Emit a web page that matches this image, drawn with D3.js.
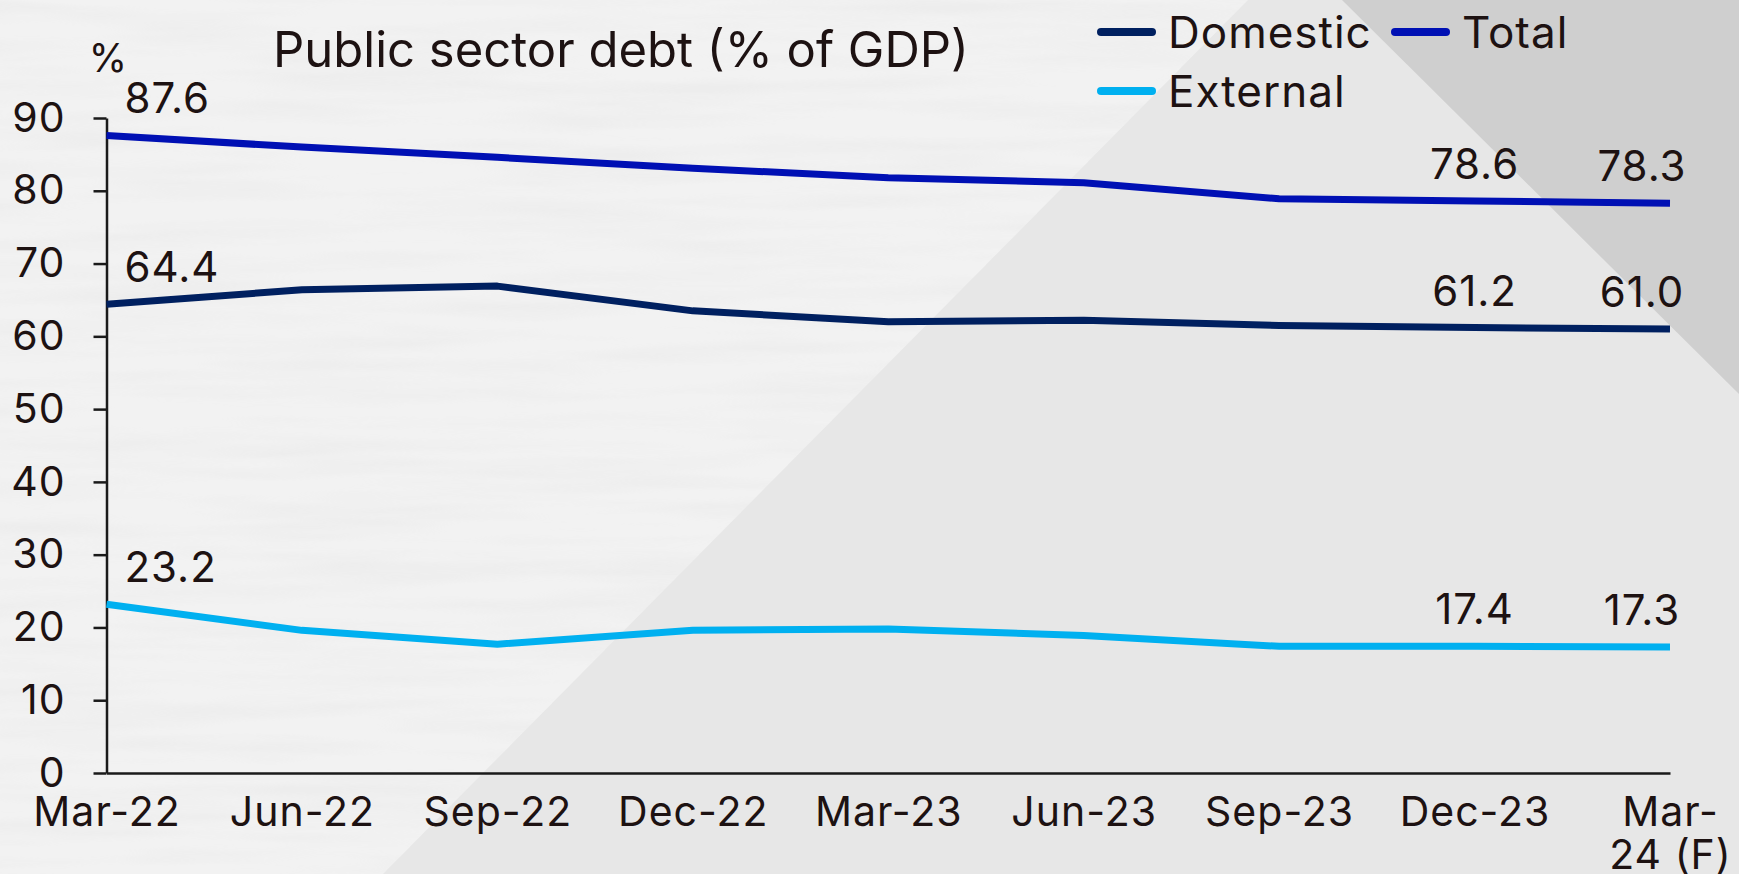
<!DOCTYPE html>
<html>
<head>
<meta charset="utf-8">
<script src="https://cdn.jsdelivr.net/npm/d3@7"></script>
<style>
  html, body { margin: 0; padding: 0; background: #f1f1f1; }
  svg { display: block; }
  text { font-family: Inter, "Open Sans", sans-serif; fill: #1d1212; }
</style>
</head>
<body>
<svg id="chart" width="1739" height="874"></svg>
<script>
// Quarterly public sector debt, % of GDP
const categories = ["Mar-22", "Jun-22", "Sep-22", "Dec-22", "Mar-23", "Jun-23", "Sep-23", "Dec-23", "Mar-24 (F)"];
const tickLabels = ["Mar-22", "Jun-22", "Sep-22", "Dec-22", "Mar-23", "Jun-23", "Sep-23", "Dec-23", "Mar-\n24 (F)"];
const domestic = [64.4, 66.4, 66.9, 63.5, 62.0, 62.2, 61.5, 61.2, 61.0];
const external = [23.2, 19.6, 17.7, 19.6, 19.8, 18.9, 17.4, 17.4, 17.3];
const total    = [87.6, 86.0, 84.6, 83.1, 81.8, 81.1, 78.9, 78.6, 78.3];
const yTicks = [0, 10, 20, 30, 40, 50, 60, 70, 80, 90];
const labelledPoints = [0, 7, 8];

const series = [
  { name: "Domestic", values: domestic, color: "#002060" },
  { name: "External", values: external, color: "#00b0f0" },
  { name: "Total",    values: total,    color: "#0010b4" }
];

const W = 1739, H = 874;
const svg = d3.select("#chart");

// --- backdrop: pale textured panel with two grey diagonal planes ---
const defs = svg.append("defs");
const tex = defs.append("filter").attr("id", "marble")
  .attr("x", 0).attr("y", 0).attr("width", "100%").attr("height", "100%");
tex.append("feTurbulence").attr("type", "fractalNoise")
  .attr("baseFrequency", "0.004 0.05").attr("numOctaves", 3).attr("seed", 7);
tex.append("feColorMatrix").attr("type", "matrix")
  .attr("values", "0 0 0 0 0.55  0 0 0 0 0.55  0 0 0 0 0.55  0 0 0 -2.2 1.35");

svg.append("rect").attr("width", W).attr("height", H).attr("fill", "#f2f2f2");
svg.append("rect").attr("width", W).attr("height", H)
  .attr("filter", "url(#marble)").attr("opacity", 0.10);
svg.append("polygon")
  .attr("points", [[383, H], [1248, 0], [W, 0], [W, H]].map(p => p.join(",")).join(" "))
  .attr("fill", "#e7e7e7");
svg.append("polygon")
  .attr("points", [[1342, 0], [W, 0], [W, 394]].map(p => p.join(",")).join(" "))
  .attr("fill", "#cfcfcf");

// --- scales ---
const x = d3.scalePoint().domain(categories).range([106.5, 1670]);
const y = d3.scaleLinear().domain([0, 90]).range([773, 118]);

const axisFont = { size: "41px", spacing: "1px" };

// --- axes ---
const yAxis = svg.append("g").attr("transform", `translate(${x.range()[0]},0)`)
  .call(d3.axisLeft(y).tickValues(yTicks).tickSize(13).tickSizeOuter(0).tickPadding(28));
yAxis.selectAll("text").style("font-size", axisFont.size)
  .style("letter-spacing", axisFont.spacing).attr("fill", "#1d1212");

const xAxis = svg.append("g").attr("transform", `translate(0,${y(0)})`)
  .call(d3.axisBottom(x).tickSize(0).tickSizeOuter(0).tickPadding(24)
    .tickFormat((d, i) => tickLabels[i]));
xAxis.selectAll("text").style("font-size", axisFont.size)
  .style("letter-spacing", axisFont.spacing).attr("fill", "#1d1212")
  .each(function (d, i) {
    const lines = tickLabels[i].split("\n");
    if (lines.length > 1) {
      const t = d3.select(this).text(null);
      lines.forEach((ln, k) => t.append("tspan").attr("x", 0)
        .attr("dy", k === 0 ? "0.71em" : "1.05em").text(ln));
      t.attr("dy", null);
    }
  });

[yAxis, xAxis].forEach(g => {
  g.selectAll("path, line").attr("stroke", "#1a1a1a").attr("stroke-width", 2.5);
});

// --- lines ---
const line = d3.line().x((d, i) => x(categories[i])).y(d => y(d));
svg.append("g").selectAll("path").data(series).join("path")
  .attr("d", s => line(s.values))
  .attr("fill", "none")
  .attr("stroke", s => s.color)
  .attr("stroke-width", 7)
  .attr("stroke-linejoin", "round")
  .attr("stroke-linecap", "butt");

// --- value labels ---
const lastIdx = categories.length - 1;
series.forEach(s => {
  labelledPoints.forEach(i => {
    const px = x(categories[i]);
    const t = svg.append("text")
      .attr("y", y(s.values[i]) - 22)
      .style("font-size", "42px")
      .style("letter-spacing", "1px")
      .text(s.values[i].toFixed(1));
    if (i === 0) t.attr("x", px + 18).attr("text-anchor", "start");
    else if (i === lastIdx) t.attr("x", px - 28).attr("text-anchor", "middle");
    else t.attr("x", px).attr("text-anchor", "middle");
  });
});

// --- title and unit ---
svg.append("text").attr("x", 621).attr("y", 67).attr("text-anchor", "middle")
  .style("font-size", "49px").text("Public sector debt (% of GDP)");
svg.append("text").attr("x", 108).attr("y", 72).attr("text-anchor", "middle")
  .style("font-size", "39px").text("%");

// --- legend ---
const legendItems = [
  { s: series[0], x: 1097, y: 32 },
  { s: series[2], x: 1391, y: 32 },
  { s: series[1], x: 1097, y: 91 }
];
const lg = svg.append("g").selectAll("g").data(legendItems).join("g")
  .attr("transform", d => `translate(${d.x},${d.y})`);
lg.append("line").attr("x1", 4).attr("x2", 55).attr("y1", 0).attr("y2", 0)
  .attr("stroke", d => d.s.color).attr("stroke-width", 8).attr("stroke-linecap", "round");
lg.append("text").attr("x", 71).attr("y", 0).attr("dy", "0.36em")
  .style("font-size", "44px").style("letter-spacing", "1px")
  .attr("fill", "#000").text(d => d.s.name);
</script>
</body>
</html>
